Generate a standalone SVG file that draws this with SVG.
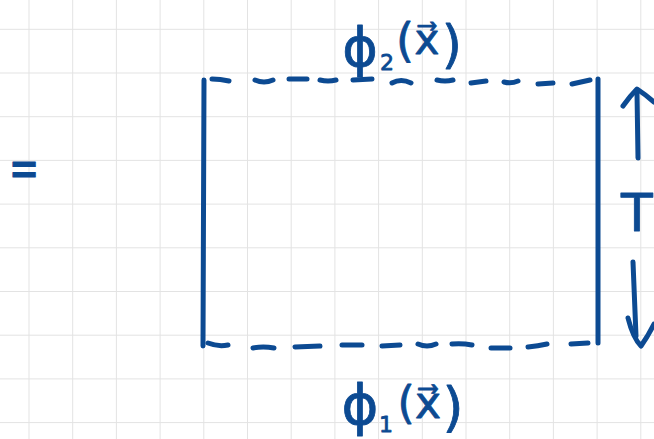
<svg xmlns="http://www.w3.org/2000/svg" width="654" height="439" viewBox="0 0 654 439">
<style>
.grid line{stroke:#e3e3e3;stroke-width:1}
.ink{fill:none;stroke:#0c4a92;stroke-width:5;stroke-linecap:round;stroke-linejoin:round}
.txt{font-family:"DejaVu Sans",sans-serif;fill:#0c4a92;stroke:#0c4a92;stroke-width:0.8;stroke-linejoin:round;text-anchor:middle}
</style>
<rect width="654" height="439" fill="#ffffff"/>
<g class="grid" id="grid">
<line x1="29" y1="0" x2="29" y2="439"/><line x1="72.7" y1="0" x2="72.7" y2="439"/><line x1="116.4" y1="0" x2="116.4" y2="439"/><line x1="160.1" y1="0" x2="160.1" y2="439"/><line x1="203.8" y1="0" x2="203.8" y2="439"/><line x1="247.5" y1="0" x2="247.5" y2="439"/><line x1="291.2" y1="0" x2="291.2" y2="439"/><line x1="334.9" y1="0" x2="334.9" y2="439"/><line x1="378.6" y1="0" x2="378.6" y2="439"/><line x1="422.3" y1="0" x2="422.3" y2="439"/><line x1="466" y1="0" x2="466" y2="439"/><line x1="509.7" y1="0" x2="509.7" y2="439"/><line x1="553.4" y1="0" x2="553.4" y2="439"/><line x1="597.1" y1="0" x2="597.1" y2="439"/><line x1="640.8" y1="0" x2="640.8" y2="439"/>
<line x1="0" y1="29.3" x2="654" y2="29.3"/><line x1="0" y1="73" x2="654" y2="73"/><line x1="0" y1="116.7" x2="654" y2="116.7"/><line x1="0" y1="160.4" x2="654" y2="160.4"/><line x1="0" y1="204.1" x2="654" y2="204.1"/><line x1="0" y1="247.8" x2="654" y2="247.8"/><line x1="0" y1="291.5" x2="654" y2="291.5"/><line x1="0" y1="335.2" x2="654" y2="335.2"/><line x1="0" y1="378.9" x2="654" y2="378.9"/><line x1="0" y1="422.6" x2="654" y2="422.6"/>
</g>
<g id="equals"><text class="txt" x="24" y="0" font-size="36" stroke-width="0.4" transform="translate(0,186) scale(1,1.5)">=</text></g>
<g id="box" class="ink">
<path d="M204,80 L203,346"/>
<path d="M598,79 L598,343"/>
<g id="top-edge">
<path d="M212,79 Q220,79 229,81"/><path d="M255,80 Q264,84 273,80"/><path d="M289,79 L307,79"/><path d="M320,80 Q328,82 336,80"/><path d="M353,80 L372,79"/><path d="M392,83 Q401,78 411,83"/><path d="M437,80 Q445,82 453,80"/><path d="M471,83 L486,81"/><path d="M504,82 Q511,84 518,81"/><path d="M538,84 L553,83"/><path d="M572,84 Q581,82 590,80"/>
</g>
<g id="bottom-edge">
<path d="M208,343 Q218,347 228,345"/><path d="M253,348 Q263,346 274,348"/><path d="M295,347 L320,346"/><path d="M342,345 L362,345"/><path d="M382,346 L400,345"/><path d="M418,344 Q427,348 436,344"/><path d="M452,344 Q462,343 472,345"/><path d="M491,348 L510,348"/><path d="M528,347 Q538,346 547,344"/><path d="M571,344 L588,343"/>
</g>
</g>
<g id="label-top"><text class="txt"><tspan x="360" y="66" font-size="54">ϕ</tspan><tspan x="387" y="70" font-size="22">2</tspan><tspan x="405" y="56" font-size="46">(</tspan><tspan x="427" y="54" font-size="42">x⃗</tspan><tspan x="452" y="62" font-size="52">)</tspan></text></g>
<g id="label-bottom"><text class="txt"><tspan x="360" y="424" font-size="56">ϕ</tspan><tspan x="386" y="432" font-size="22">1</tspan><tspan x="406" y="418" font-size="44">(</tspan><tspan x="428" y="418" font-size="44">x⃗</tspan><tspan x="453" y="426" font-size="54">)</tspan></text></g>
<g id="period">
<g class="ink"><path d="M638,158 L637,92"/><path d="M623,106 Q630,96 637,89 Q646,95 654,102"/><path d="M633,262 L636,336"/><path d="M628,318 Q633,338 641,346 Q648,336 654,324"/></g>
<text class="txt" x="637" y="231" font-size="52">T</text>
</g>
</svg>
